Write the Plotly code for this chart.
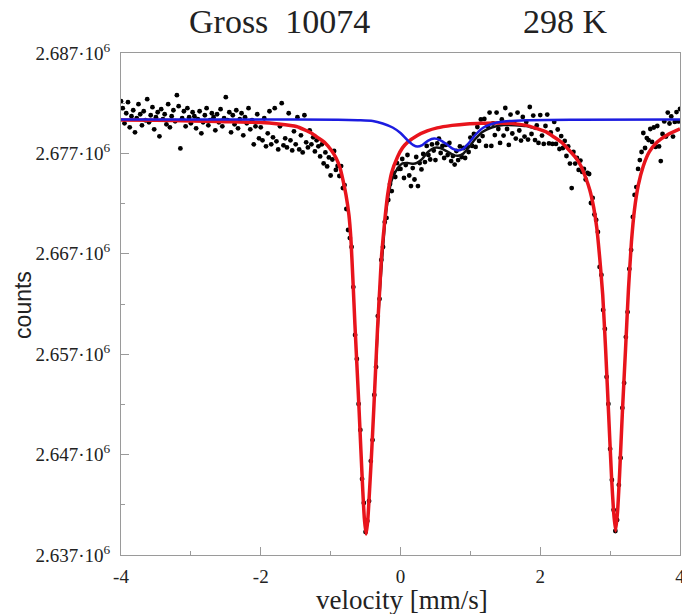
import plotly.graph_objects as go

# ---------------- measured spectrum (velocity in mm/s, counts) ----------------
velocity = [
    -4.0, -3.975, -3.95, -3.925, -3.9, -3.875, -3.85, -3.825, -3.8, -3.775,
    -3.75, -3.725, -3.7, -3.675, -3.65, -3.625, -3.6, -3.575, -3.55, -3.525,
    -3.5, -3.475, -3.45, -3.425, -3.4, -3.375, -3.35, -3.325, -3.3, -3.275,
    -3.25, -3.225, -3.2, -3.175, -3.15, -3.125, -3.1, -3.075, -3.05, -3.025,
    -3.0, -2.975, -2.95, -2.925, -2.9, -2.875, -2.85, -2.825, -2.8, -2.775,
    -2.75, -2.725, -2.7, -2.675, -2.65, -2.625, -2.6, -2.575, -2.55, -2.525,
    -2.5, -2.475, -2.45, -2.425, -2.4, -2.375, -2.35, -2.325, -2.3, -2.275,
    -2.25, -2.225, -2.2, -2.175, -2.15, -2.125, -2.1, -2.075, -2.05, -2.025,
    -2.0, -1.975, -1.95, -1.925, -1.9, -1.875, -1.85, -1.825, -1.8, -1.775,
    -1.75, -1.725, -1.7, -1.675, -1.65, -1.625, -1.6, -1.575, -1.55, -1.525,
    -1.5, -1.475, -1.45, -1.425, -1.4, -1.375, -1.35, -1.325, -1.3, -1.275,
    -1.25, -1.225, -1.2, -1.175, -1.15, -1.125, -1.1, -1.075, -1.05, -1.025,
    -1.0, -0.975, -0.95, -0.925, -0.9, -0.875, -0.85, -0.825, -0.8, -0.775,
    -0.75, -0.725, -0.7, -0.675, -0.65, -0.625, -0.6, -0.575, -0.55, -0.525,
    -0.5, -0.475, -0.45, -0.425, -0.4, -0.375, -0.35, -0.325, -0.3, -0.275,
    -0.25, -0.225, -0.2, -0.175, -0.15, -0.125, -0.1, -0.075, -0.05, -0.025,
    0.0, 0.025, 0.05, 0.075, 0.1, 0.125, 0.15, 0.175, 0.2, 0.225,
    0.25, 0.275, 0.3, 0.325, 0.35, 0.375, 0.4, 0.425, 0.45, 0.475,
    0.5, 0.525, 0.55, 0.575, 0.6, 0.625, 0.65, 0.675, 0.7, 0.725,
    0.75, 0.775, 0.8, 0.825, 0.85, 0.875, 0.9, 0.925, 0.95, 0.975,
    1.0, 1.025, 1.05, 1.075, 1.1, 1.125, 1.15, 1.175, 1.2, 1.225,
    1.25, 1.275, 1.3, 1.325, 1.35, 1.375, 1.4, 1.425, 1.45, 1.475,
    1.5, 1.525, 1.55, 1.575, 1.6, 1.625, 1.65, 1.675, 1.7, 1.725,
    1.75, 1.775, 1.8, 1.825, 1.85, 1.875, 1.9, 1.925, 1.95, 1.975,
    2.0, 2.025, 2.05, 2.075, 2.1, 2.125, 2.15, 2.175, 2.2, 2.225,
    2.25, 2.275, 2.3, 2.325, 2.35, 2.375, 2.4, 2.425, 2.45, 2.475,
    2.5, 2.525, 2.55, 2.575, 2.6, 2.625, 2.65, 2.675, 2.7, 2.725,
    2.75, 2.775, 2.8, 2.825, 2.85, 2.875, 2.9, 2.925, 2.95, 2.975,
    3.0, 3.025, 3.05, 3.075, 3.1, 3.125, 3.15, 3.175, 3.2, 3.225,
    3.25, 3.275, 3.3, 3.325, 3.35, 3.375, 3.4, 3.425, 3.45, 3.475,
    3.5, 3.525, 3.55, 3.575, 3.6, 3.625, 3.65, 3.675, 3.7, 3.725,
    3.75, 3.775, 3.8, 3.825, 3.85, 3.875, 3.9, 3.925, 3.95, 3.975,
    4.0,
]

counts = [
    2682200, 2681500, 2680000, 2681000, 2682100, 2679600, 2680700, 2681300, 2679100, 2680500,
    2681900, 2680900, 2679800, 2681200, 2680300, 2682400, 2680100, 2680800, 2681600, 2679400,
    2680600, 2681100, 2678700, 2681400, 2680400, 2680900, 2679900, 2681900, 2679600, 2680700,
    2681300, 2680200, 2682800, 2681700, 2677500, 2680500, 2681200, 2679700, 2681500, 2680600,
    2680000, 2681100, 2680700, 2679500, 2680400, 2681200, 2679000, 2680100, 2680800, 2681500,
    2679800, 2680300, 2681000, 2680600, 2679300, 2680900, 2680100, 2681400, 2679700, 2680500,
    2682600, 2680300, 2681100, 2679100, 2680800, 2679900, 2681300, 2679500, 2680400, 2681000,
    2678800, 2680600, 2680000, 2681500, 2679400, 2680300, 2677900, 2679700, 2680900, 2678500,
    2679600, 2678300, 2680500, 2677700, 2679000, 2681200, 2677900, 2678600, 2681500, 2678200,
    2677400, 2679700, 2682000, 2677800, 2678500, 2677600, 2681000, 2678300, 2677300, 2679200,
    2677900, 2680600, 2677400, 2678800, 2677100, 2680800, 2678100, 2677600, 2679300, 2677900,
    2678600, 2677200, 2678300, 2677700, 2676700, 2677900, 2676000, 2677100, 2675700, 2676600,
    2674800, 2676390, 2677240, 2675350, 2675750, 2674750, 2675740, 2673550, 2673850, 2671460,
    2669370, 2668570, 2667680, 2663690, 2658910, 2656520, 2652040, 2649450, 2644570, 2642180,
    2639290, 2640390, 2642380, 2646360, 2648450, 2652940, 2655730, 2660800, 2662500, 2666380,
    2667680, 2670170, 2670570, 2672360, 2673950, 2673250, 2675050, 2674650, 2676040, 2675450,
    2675450, 2676440, 2674550, 2675840, 2676840, 2674800, 2673750, 2675540, 2674400, 2676640,
    2673750, 2676040, 2675400, 2676940, 2676140, 2677740, 2676840, 2676390, 2677890, 2677290,
    2676340, 2677990, 2678480, 2677040, 2677740, 2676540, 2677840, 2676840, 2678040, 2676240,
    2676740, 2675890, 2677240, 2676340, 2677690, 2676640, 2677540, 2676540, 2677640, 2677140,
    2678580, 2677740, 2678930, 2677640, 2679630, 2678240, 2680380, 2678730, 2680430, 2677740,
    2679730, 2681070, 2677740, 2679980, 2678830, 2681070, 2679430, 2678040, 2680380, 2678780,
    2681520, 2679430, 2677840, 2680870, 2678980, 2680080, 2678480, 2681070, 2679280, 2678280,
    2680630, 2678680, 2680130, 2678380, 2681620, 2678930, 2680770, 2678330, 2679780, 2678040,
    2680820, 2678780, 2677940, 2679730, 2680870, 2677990, 2679080, 2677940, 2680130, 2677940,
    2679380, 2677440, 2678730, 2677540, 2678240, 2676740, 2677690, 2675990, 2673550, 2677140,
    2675990, 2676540, 2675350, 2676290, 2675150, 2675450, 2674400, 2675050, 2674950, 2672060,
    2672560, 2670910, 2670370, 2669170, 2665690, 2664890, 2661400, 2659510, 2654730, 2652040,
    2647560, 2644470, 2641480, 2639390, 2640490, 2643970, 2646660, 2651640, 2654130, 2658710,
    2661200, 2665490, 2667380, 2670670, 2672860, 2673650, 2675450, 2676340, 2677140, 2679030,
    2677540, 2678530, 2678330, 2679430, 2678140, 2679580, 2677640, 2679730, 2677690, 2676240,
    2678930, 2680180, 2678680, 2681070, 2679980, 2680680, 2678680, 2680130, 2681120, 2680180,
    2681420,
]

# ---------------- fitted curves ----------------
# main doublet (red)
red_v = [
    -4.0, -3.504, -2.993, -2.496, -2.0, -1.745, -1.489, -1.277, -1.177, -1.078,
    -0.993, -0.922, -0.865, -0.823, -0.78, -0.738, -0.709, -0.681, -0.652, -0.624,
    -0.596, -0.567, -0.539, -0.518, -0.492, -0.468, -0.44, -0.411, -0.383, -0.355,
    -0.326, -0.298, -0.27, -0.227, -0.184, -0.128, -0.043, 0.028, 0.099, 0.241,
    0.383, 0.525, 0.738, 0.95, 1.163, 1.376, 1.589, 1.801, 1.943, 2.085,
    2.184, 2.298, 2.411, 2.511, 2.582, 2.652, 2.709, 2.766, 2.809, 2.851,
    2.894, 2.936, 2.979, 3.021, 3.05, 3.078, 3.106, 3.135, 3.177, 3.22,
    3.262, 3.305, 3.348, 3.404, 3.475, 3.56, 3.674, 3.816, 4.0,
]
red_counts = [
    2680330, 2680300, 2680230, 2680160, 2680080, 2679930, 2679680, 2679030, 2678540, 2678040,
    2677340, 2676540, 2675550, 2674350, 2672860, 2670870, 2668380, 2664400, 2659920, 2655940,
    2651940, 2647480, 2643300, 2640710, 2639090, 2640510, 2643800, 2647480, 2651460, 2655640,
    2659920, 2663410, 2666890, 2670180, 2672870, 2675050, 2676650, 2677550, 2678100, 2678790,
    2679240, 2679540, 2679790, 2679940, 2680010, 2680040, 2679990, 2679790, 2679490, 2679140,
    2678690, 2678140, 2677340, 2676540, 2675750, 2674550, 2673360, 2671570, 2669580, 2666590,
    2662900, 2657420, 2650950, 2644680, 2641290, 2639400, 2641290, 2644980, 2651450, 2657420,
    2663400, 2668180, 2671370, 2673860, 2675750, 2677150, 2678140, 2678840, 2679440,
]

# minor doublet (blue)
blue_v = [
    -4.0, -2.0, -0.894, -0.61, -0.397, -0.255, -0.113, 0.0, 0.099, 0.184,
    0.241, 0.312, 0.397, 0.482, 0.567, 0.667, 0.752, 0.823, 0.894, 0.979,
    1.064, 1.177, 1.305, 1.475, 1.801, 2.511, 4.0,
]
blue_counts = [
    2680380, 2680380, 2680360, 2680310, 2680230, 2679980, 2679580, 2679030, 2678330, 2677830,
    2677680, 2677830, 2678280, 2678480, 2678330, 2677880, 2677440, 2677290, 2677440, 2678040,
    2678780, 2679530, 2679930, 2680180, 2680310, 2680360, 2680380,
]

# total fit (black)
total_v = [
    -0.355, -0.298, -0.227, -0.184, -0.128, -0.043, 0.028, 0.099, 0.184, 0.241,
    0.312, 0.397, 0.482, 0.567, 0.667, 0.752, 0.823, 0.894, 0.979, 1.064,
    1.177, 1.305, 1.475, 1.801, 1.943,
]
total_counts = [
    2655410, 2663110, 2669680, 2672270, 2674300, 2675500, 2676000, 2676050, 2675960, 2676090,
    2676460, 2677170, 2677550, 2677540, 2677200, 2676860, 2676760, 2676950, 2677610, 2678380,
    2679160, 2679580, 2679830, 2679720, 2679430,
]

assert len(velocity) == len(counts)
assert len(red_v) == len(red_counts)
assert len(blue_v) == len(blue_counts)
assert len(total_v) == len(total_counts)

y_ticks = [2637000, 2647000, 2657000, 2667000, 2677000, 2687000]
y_ticktext = ["2.637·10<sup>6</sup>", "2.647·10<sup>6</sup>", "2.657·10<sup>6</sup>",
              "2.667·10<sup>6</sup>", "2.677·10<sup>6</sup>", "2.687·10<sup>6</sup>"]
y_minor = [2642000, 2652000, 2662000, 2672000, 2682000]
x_ticks = [-4, -2, 0, 2, 4]
x_ticktext = ["-4", "-2", "0", "2", "4"]
x_minor = [-3, -1, 1, 3]

SERIF = "Liberation Serif, Times New Roman, serif"
SANS = "Liberation Sans, Arial, sans-serif"

fig = go.Figure()
fig.add_trace(go.Scatter(x=velocity, y=counts, mode="markers",
                         marker=dict(color="black", size=4.8, line=dict(width=0)),
                         hoverinfo="skip"))
fig.add_trace(go.Scatter(x=total_v, y=total_counts, mode="lines",
                         line=dict(color="#111111", width=2.5, shape="spline", smoothing=0.6)))
fig.add_trace(go.Scatter(x=red_v, y=red_counts, mode="lines",
                         line=dict(color="#e8141c", width=3.5, shape="spline", smoothing=0.5)))
fig.add_trace(go.Scatter(x=blue_v, y=blue_counts, mode="lines",
                         line=dict(color="#1c1ce0", width=2.5, shape="spline", smoothing=0.7)))

axis_common = dict(showgrid=False, zeroline=False, showline=True, linecolor="#9a9a9a",
                   linewidth=1, mirror=True, ticks="inside", ticklen=8, tickcolor="#9a9a9a",
                   tickwidth=1, ticklabeloverflow="allow",
                   tickfont=dict(family=SERIF, size=19, color="#222222"))

# The page body adds an 8 px offset, so the figure is 8 px smaller on each axis.
fig.update_layout(
    width=682, height=606,
    margin=dict(l=113, r=5, t=45, b=59),
    paper_bgcolor="white", plot_bgcolor="white",
    showlegend=False,
    xaxis=dict(range=[-4, 4], tickmode="array", tickvals=x_ticks, ticktext=x_ticktext,
               minor=dict(tickmode="array", tickvals=x_minor, ticks="inside", ticklen=4,
                          tickcolor="#9a9a9a"),
               ticklabelstandoff=4, **axis_common),
    yaxis=dict(range=[2637000, 2687000], tickmode="array", tickvals=y_ticks, ticktext=y_ticktext,
               minor=dict(tickmode="array", tickvals=y_minor, ticks="inside", ticklen=4,
                          tickcolor="#9a9a9a"),
               ticklabelstandoff=6, **axis_common),
    annotations=[
        dict(text="Gross  10074", x=0.284, y=1.062, xref="paper", yref="paper",
             xanchor="center", yanchor="middle", showarrow=False,
             font=dict(family=SERIF, size=34, color="#222222")),
        dict(text="298 K", x=0.796, y=1.062, xref="paper", yref="paper",
             xanchor="center", yanchor="middle", showarrow=False,
             font=dict(family=SERIF, size=34, color="#222222")),
        dict(text="counts", x=-0.1755, y=0.498, xref="paper", yref="paper",
             xanchor="center", yanchor="middle", textangle=-90, showarrow=False,
             font=dict(family=SANS, size=23, color="#222222")),
        dict(text="velocity [mm/s]", x=0.502, y=-0.0896, xref="paper", yref="paper",
             xanchor="center", yanchor="middle", showarrow=False,
             font=dict(family=SERIF, size=27, color="#222222")),
    ],
)

fig.write_html("out.html")
